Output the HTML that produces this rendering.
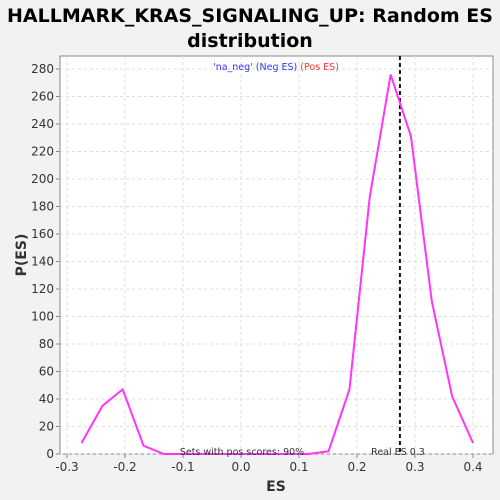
<!DOCTYPE html>
<html><head><meta charset="utf-8"><style>
body{margin:0;background:#f2f2f2;}
svg{display:block;font-family:"DejaVu Sans","Liberation Sans",sans-serif;}
</style></head><body>
<svg id="chart" width="500" height="500" viewBox="0 0 500 500">
<rect width="500" height="500" fill="#f2f2f2"/>
<text x="250" y="22" text-anchor="middle" font-size="19" font-weight="bold" fill="#000">HALLMARK_KRAS_SIGNALING_UP: Random ES</text>
<text x="250" y="47" text-anchor="middle" font-size="19" font-weight="bold" fill="#000">distribution</text>
<rect x="60" y="56" width="433" height="398" fill="#fff" stroke="#888"/>
<g id="grid"></g><g id="axes"></g><g id="series"></g>
<text x="276" y="70" text-anchor="middle" font-size="9.5"><tspan fill="#3333ff">'na_neg' (Neg ES)</tspan><tspan fill="#ff3333"> (Pos ES)</tspan></text>
<text x="242" y="455" text-anchor="middle" font-size="9.5" fill="#333">Sets with pos scores: 90%</text>
<text x="398" y="455" text-anchor="middle" font-size="9.5" fill="#333">Real ES 0.3</text>
<text x="276" y="491" text-anchor="middle" font-size="14" font-weight="bold" fill="#333">ES</text>
<text transform="translate(26,255) rotate(-90)" text-anchor="middle" font-size="14" font-weight="bold" fill="#333">P(ES)</text>
</svg>
<script>
const esValues=[-0.275,-0.239,-0.204,-0.168,-0.133,-0.097,-0.062,-0.026,0.009,0.045,0.080,0.116,0.151,0.187,0.222,0.258,0.293,0.329,0.364,0.400];
const pValues=[8,35,47,6,0,0,0,0,0,0,0,0,2,47,187,276,231,111,42,8];
const xTicks=[-0.3,-0.2,-0.1,0.0,0.1,0.2,0.3,0.4];
const xTickLabels=["-0.3","-0.2","-0.1","0.0","0.1","0.2","0.3","0.4"];
const yTicks=[0,20,40,60,80,100,120,140,160,180,200,220,240,260,280];
const realES=0.274;
const NS="http://www.w3.org/2000/svg";
const xs=v=>67+(v+0.3)*580;
const ys=v=>454-v*1.375;
function mk(t,a,p){const e=document.createElementNS(NS,t);for(const k in a)e.setAttribute(k,a[k]);p.appendChild(e);return e;}
const grid=document.getElementById('grid'),axes=document.getElementById('axes'),ser=document.getElementById('series');
xTicks.forEach((t,i)=>{const x=xs(t);
 const g=mk('line',{x1:x,x2:x,y1:56,y2:454,stroke:'#ddd','stroke-dasharray':'3,3'},grid);
 
 
 const tk=mk('line',{x1:x,x2:x,y1:454,y2:458,stroke:'#888'},axes);
 
 
 const l=mk('text',{x:x,y:471,'text-anchor':'middle','font-size':'12',fill:'#333'},axes);l.textContent=xTickLabels[i];
 
 
});
yTicks.forEach(t=>{const y=ys(t);
 const g=mk('line',{x1:60,x2:493,y1:y,y2:y,stroke:'#ddd','stroke-dasharray':'3,3'},grid);
 
 
 const tk=mk('line',{x1:56,x2:60,y1:y,y2:y,stroke:'#888'},axes);
 
 
 const l=mk('text',{x:54,y:y+4,'text-anchor':'end','font-size':'12',fill:'#333'},axes);l.textContent=t;
 
 
});
const rl=mk('line',{x1:xs(realES),x2:xs(realES),y1:56,y2:454,stroke:'#111','stroke-width':2,'stroke-dasharray':'4,3'},ser);


const pl=mk('polyline',{points:esValues.map((v,i)=>xs(v)+','+ys(pValues[i])).join(' '),fill:'none',stroke:'#ff33ff','stroke-width':2},ser);


</script>
</body></html>
